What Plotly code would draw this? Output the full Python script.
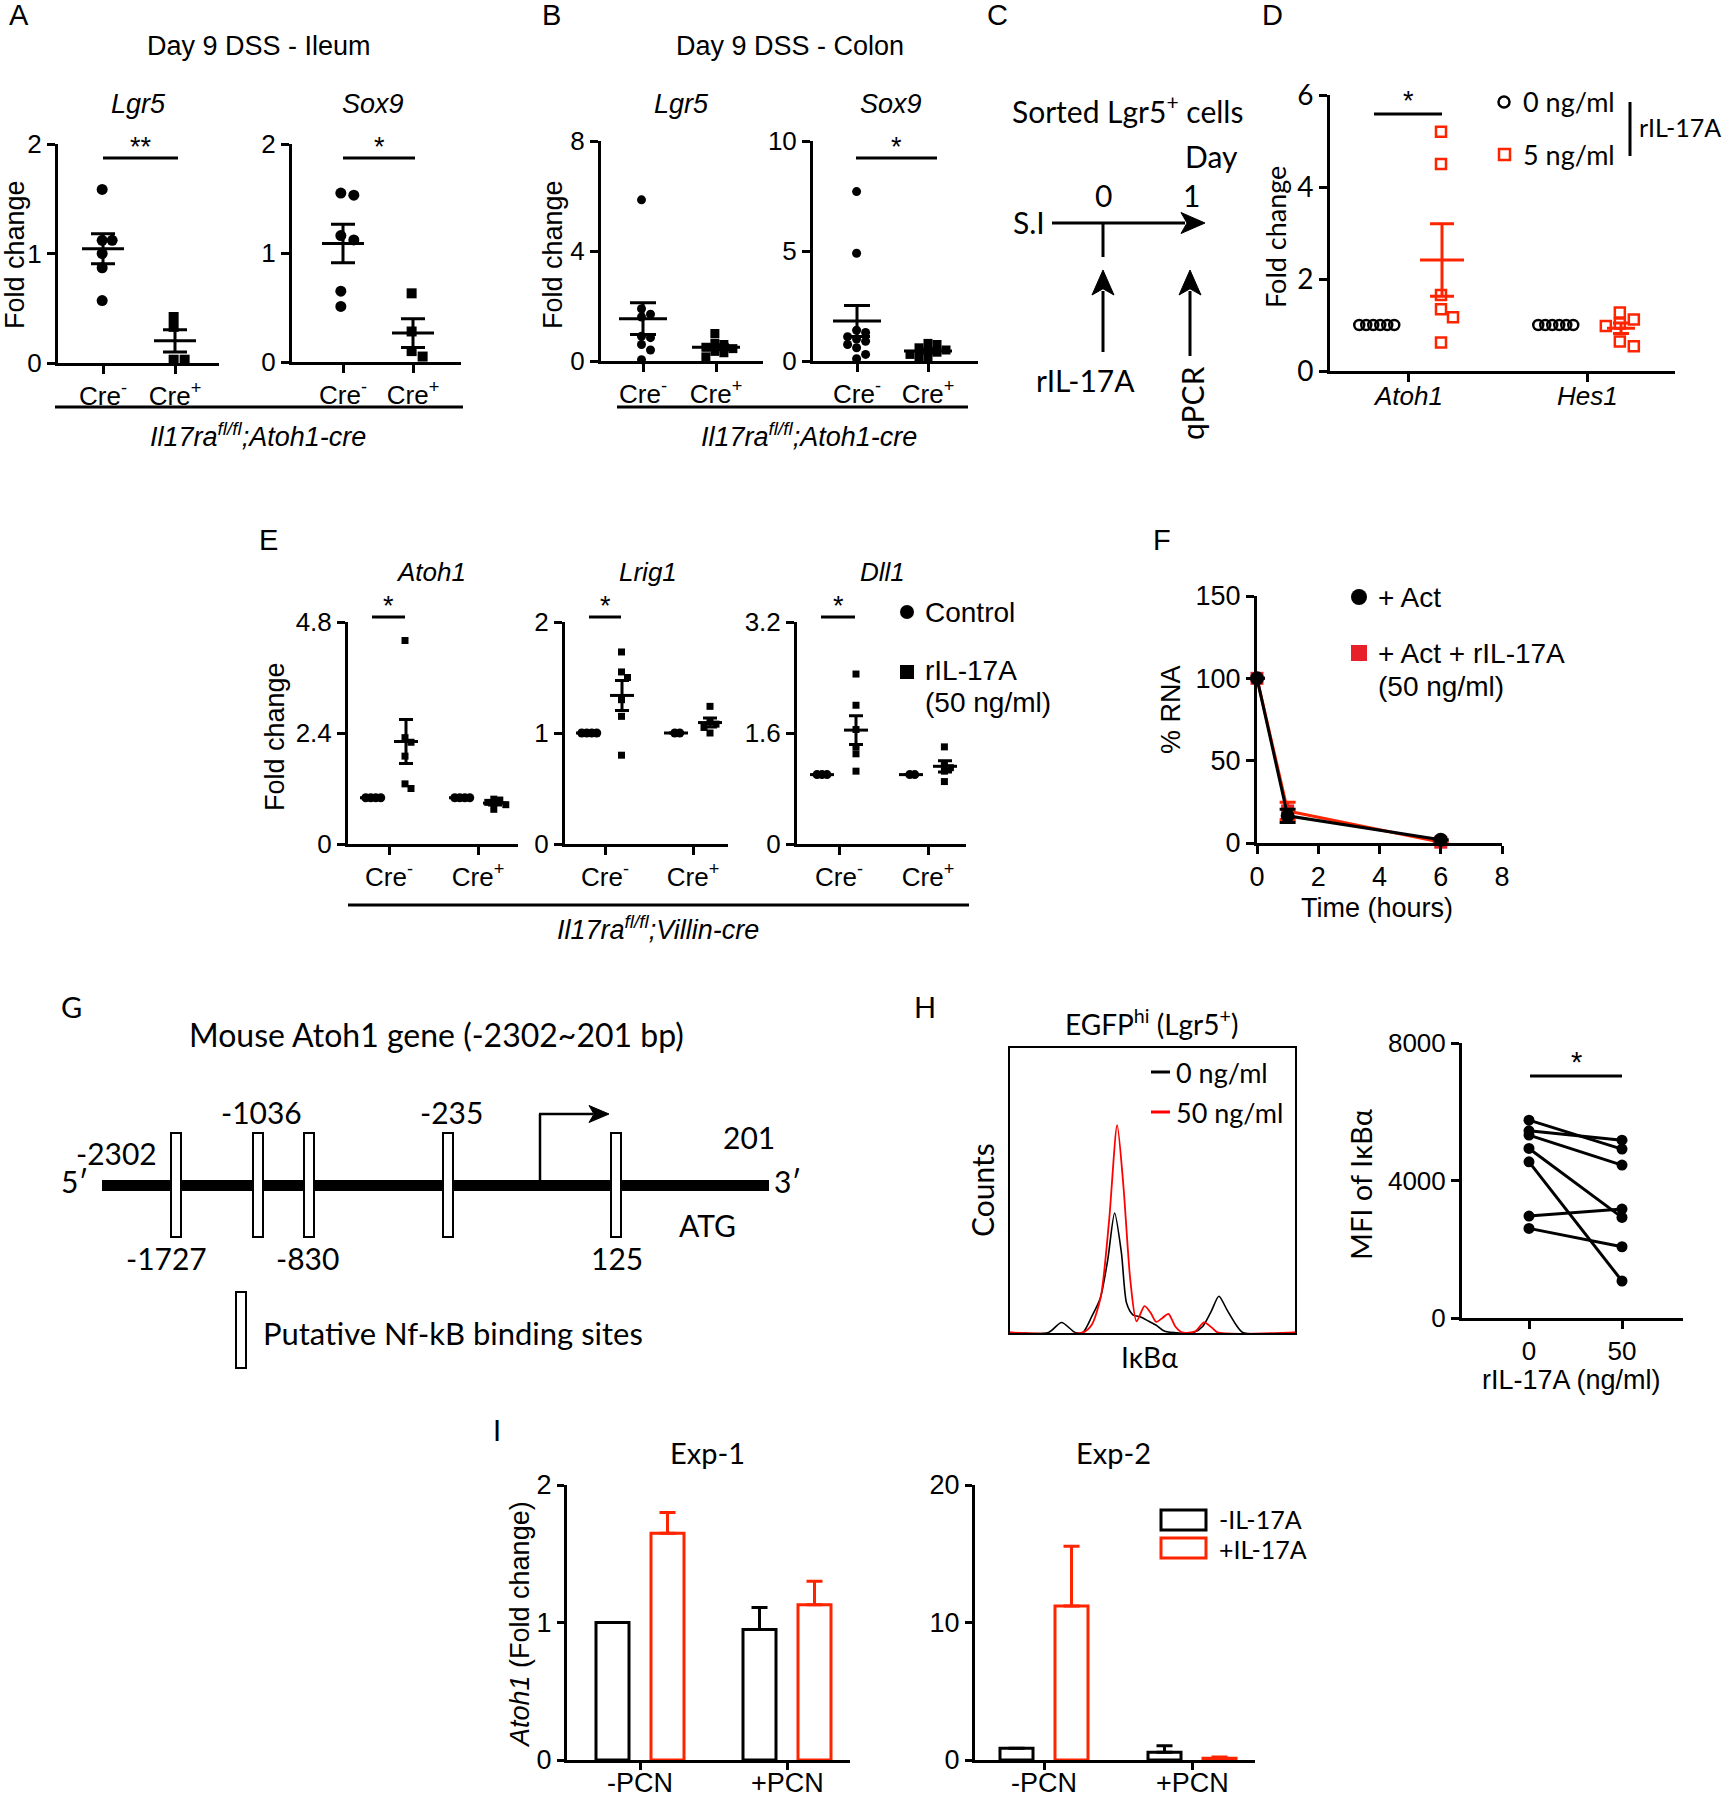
import numpy as np
import plotly.graph_objects as go

# ---------------------------------------------------------------- data
CAT_CRE = ["Cre<sup>-</sup>", "Cre<sup>+</sup>"]

# Panel A  (Day 9 DSS - Ileum)
A_lgr5_neg = [1.585, 1.12, 1.12, 1.0, 0.87, 0.57]
A_lgr5_pos = [0.42, 0.33, 0.03, 0.03]
A_sox9_neg = [1.55, 1.53, 1.16, 1.12, 0.65, 0.51]
A_sox9_pos = [0.63, 0.28, 0.10, 0.05]

# Panel B  (Day 9 DSS - Colon)
B_lgr5_neg = [5.86, 1.9, 1.7, 1.6, 0.9, 0.85, 0.6, 0.4, 0.05]
B_lgr5_pos = [1.0, 0.65, 0.6, 0.5, 0.45, 0.35, 0.3, 0.15]
B_sox9_neg = [7.7, 4.9, 1.4, 1.3, 1.1, 1.0, 0.9, 0.75, 0.6, 0.3, 0.1]
B_sox9_pos = [0.8, 0.75, 0.6, 0.5, 0.45, 0.4, 0.3, 0.2, 0.1]

# Panel D
D_genes = ["<i>Atoh1</i>", "<i>Hes1</i>"]
D_atoh1_0 = [1.0, 1.0, 1.0, 1.0, 1.0, 1.0]
D_atoh1_5 = [5.2, 4.5, 1.65, 1.34, 1.17, 0.62]
D_hes1_0 = [1.0, 1.0, 1.0, 1.0, 1.0, 1.0]
D_hes1_5 = [1.27, 1.12, 1.03, 0.98, 0.64, 0.54]

# Panel E
E_atoh1_ctrl_neg = [1.0, 1.0, 1.0, 1.0]
E_atoh1_ril_neg = [4.4, 2.3, 2.2, 1.9, 1.3, 1.2]
E_atoh1_ctrl_pos = [1.0, 1.0, 1.0, 1.0]
E_atoh1_ril_pos = [0.97, 0.95, 0.9, 0.85, 0.75]
E_lrig1_ctrl_neg = [1.0, 1.0, 1.0, 1.0]
E_lrig1_ril_neg = [1.73, 1.55, 1.5, 1.3, 1.15, 0.8]
E_lrig1_ctrl_pos = [1.0, 1.0]
E_lrig1_ril_pos = [1.24, 1.1, 1.08, 1.05, 1.0]
E_dll1_ctrl_neg = [1.0, 1.0, 1.0]
E_dll1_ril_neg = [2.45, 2.0, 1.65, 1.4, 1.3, 1.05]
E_dll1_ctrl_pos = [1.0, 1.0]
E_dll1_ril_pos = [1.4, 1.15, 1.1, 1.05, 0.9]

# Panel F
F_time = [0, 1, 6]
F_act = [100, 16.5, 2.0]
F_act_err = [0, 4.0, 0]
F_ril = [100, 19.5, 0.5]
F_ril_err = [0, 5.3, 0]

# Panel G
G_sites_top = ["-1036", "-235"]
G_sites_bottom = ["-1727", "-830", "125"]

# Panel H (histogram, % of box)
H_black_x = [0, 13.5, 18.1, 22.8, 25.6, 28.7, 31.7, 34.3, 36.7, 39.1, 40.9, 43.1, 45.9,
             48.7, 51.5, 54.3, 64.4, 67.6, 70.6, 73.3, 76.1, 79.3, 81.7, 100]
H_black_y = [0.2, 0.2, 3.7, 0.2, 0.2, 5.8, 12.3, 25.7, 42.1, 28.1, 10.5, 6.4, 5.6,
             4.1, 2.6, 0.6, 0.2, 2.3, 7.6, 12.9, 8.2, 2.9, 0.2, 0.2]
H_red_x = [0, 25.6, 28.7, 31.9, 34.8, 37.6, 39.8, 42.2, 44.4, 47.2, 49.4, 51.3, 53.5,
           55.6, 58.0, 60.4, 65.0, 68.1, 70.9, 72.8, 100]
H_red_y = [0.2, 0.2, 2.9, 12.9, 39.8, 72.9, 51.5, 18.7, 4.1, 9.4, 7.0, 3.9, 5.3,
           6.7, 2.3, 0.2, 0.6, 3.7, 1.8, 0.2, 0.2]
H_dose = [0, 50]
H_mfi_0 = [5756, 5445, 5320, 4933, 4544, 2965, 2607]
H_mfi_50 = [4913, 5174, 4448, 2927, 1076, 3169, 2073]

# Panel I
I_cats = ["-PCN", "+PCN"]
I1_minus = [1.0, 0.95]
I1_minus_err = [0, 0.16]
I1_plus = [1.65, 1.13]
I1_plus_err = [0.15, 0.17]
I2_minus = [0.85, 0.56]
I2_minus_err = [0, 0.48]
I2_plus = [11.2, 0.12]
I2_plus_err = [4.35, 0.10]

# ---------------------------------------------------------------- helpers
FA = "Liberation Sans, Arial, Helvetica, sans-serif"
FM = "Lato, Noto Sans, Open Sans, sans-serif"
RED = "#FF2400"
RED_F = "#E8202A"
RED_H = "#FF0000"

W, H, OFF = 1729, 1800, 0


def PX(x):
    return (x - OFF) / W


def PY(y):
    return 1 - (y - OFF) / H


fig = go.Figure()
layout = {}
ann = []
shp = []


def sfx(k):
    return "" if k == 1 else str(k)


def add_axes(k, x0, x1, c0, c1, u1, ytop, ybot, yr, ytv, yttxt=None, xtv=None, xttxt=None,
             tickfont=None, xtickfont=None, lw=3, ticklen=8, box=False, xlabels=True):
    ppu = (c1 - c0) / u1
    xr = [(x0 - c0) / ppu, (x1 - c0) / ppu]
    s = sfx(k)
    tf = tickfont or dict(family=FA, size=26, color="black")
    common = dict(showline=True, linecolor="black", linewidth=lw, tickwidth=lw, tickcolor="black",
                  ticklen=ticklen, showgrid=False, zeroline=False, fixedrange=True, mirror=box,
                  automargin=False, layer="above traces")
    layout["xaxis" + s] = dict(domain=[PX(x0), PX(x1)], range=xr, anchor="y" + s,
                               ticks="outside" if xtv is not None else "",
                               tickvals=xtv if xtv is not None else [], ticktext=xttxt,
                               showticklabels=xlabels,
                               tickfont=xtickfont or tf, **common)
    layout["yaxis" + s] = dict(domain=[PY(ybot), PY(ytop)], range=yr, anchor="x" + s,
                               ticks="outside" if ytv is not None else "",
                               tickvals=ytv if ytv is not None else [], ticktext=yttxt,
                               tickfont=tf, **common)
    yppu = (ybot - ytop) / (yr[1] - yr[0])
    return ppu, yppu


def swarm(vals, thresh, step):
    v = np.asarray(vals, float)
    order = np.argsort(-v, kind="stable")
    offs = np.zeros(len(v))
    placed = []
    cands = [0]
    for i in range(1, 20):
        cands += [i, -i]
    for idx in order:
        near = [offs[j] for j in placed if abs(v[j] - v[idx]) < thresh]
        for c in cands:
            if all(abs(c * step - o) > step * 0.5 for o in near):
                offs[idx] = c * step
                break
        placed.append(idx)
    if len(offs):
        offs = offs - offs.mean() * 0.5
    return offs


def dots(k, xc, vals, symbol, size, color, ppu, yppu, step_px, lw=0):
    offs = swarm(vals, thresh=size * 0.85 / yppu, step=step_px / ppu)
    s = sfx(k)
    fig.add_trace(go.Scatter(x=xc + offs, y=vals, mode="markers",
                             marker=dict(symbol=symbol, size=size, color=color,
                                         line=dict(color=color, width=lw)),
                             xaxis="x" + s, yaxis="y" + s, cliponaxis=False, hoverinfo="skip"))


def mean_sem(k, xc, vals, color, ppu, half_px, cap_px, lw=3):
    v = np.asarray(vals, float)
    m = v.mean()
    se = v.std(ddof=1) / np.sqrt(len(v))
    s = sfx(k)
    fig.add_trace(go.Scatter(x=[xc - half_px / ppu, xc + half_px / ppu], y=[m, m], mode="lines",
                             line=dict(color=color, width=lw), xaxis="x" + s, yaxis="y" + s,
                             cliponaxis=False, hoverinfo="skip"))
    fig.add_trace(go.Scatter(x=[xc], y=[m], mode="markers",
                             marker=dict(size=1, color="rgba(0,0,0,0)"),
                             error_y=dict(type="data", array=[se], visible=True, color=color,
                                          thickness=lw, width=cap_px),
                             xaxis="x" + s, yaxis="y" + s, cliponaxis=False, hoverinfo="skip"))


def T(text, x, y, size=27, family=FA, xanchor="center", yanchor="middle", angle=0, color="black"):
    ann.append(dict(text=text, x=PX(x), y=PY(y), xref="paper", yref="paper", showarrow=False,
                    xanchor=xanchor, yanchor=yanchor, textangle=angle,
                    font=dict(size=size, family=family, color=color)))


def L(x0, y0, x1, y1, w=3, color="black"):
    shp.append(dict(type="line", x0=PX(x0), y0=PY(y0), x1=PX(x1), y1=PY(y1), xref="paper",
                    yref="paper", line=dict(color=color, width=w)))


def R(x0, y0, x1, y1, fill="white", line="black", w=2):
    shp.append(dict(type="rect", x0=PX(x0), y0=PY(y1), x1=PX(x1), y1=PY(y0), xref="paper",
                    yref="paper", fillcolor=fill, line=dict(color=line, width=w)))


def C(xc, yc, r, fill="black", line="black", w=0):
    shp.append(dict(type="circle", x0=PX(xc - r), y0=PY(yc + r), x1=PX(xc + r), y1=PY(yc - r),
                    xref="paper", yref="paper", fillcolor=fill, line=dict(color=line, width=w)))


def ARROW(hx, hy, tx, ty, w=3, hl=22, hw=20):
    d = np.array([hx - tx, hy - ty], float)
    d /= np.hypot(*d)
    n = np.array([-d[1], d[0]])
    b = np.array([hx, hy]) - d * hl
    L(tx, ty, b[0] + d[0] * 4, b[1] + d[1] * 4, w)
    pts = [(hx, hy), tuple(b + n * hw / 2), tuple(b + d * hl * 0.25), tuple(b - n * hw / 2)]
    path = "M " + " L ".join(f"{PX(x):.5f},{PY(y):.5f}" for x, y in pts) + " Z"
    shp.append(dict(type="path", path=path, xref="paper", yref="paper", fillcolor="black",
                    line=dict(color="black", width=1)))


def sig(x0, x1, y, star, ystar, size=27):
    L(x0, y, x1, y, 3)
    T(star, (x0 + x1) / 2, ystar, size=size)


# ---------------------------------------------------------------- panel A
T("A", 19, 15, size=29)
T("Day 9 DSS - Ileum", 259, 46, size=27)
T("<i>Lgr5</i>", 138, 104, size=27)
T("<i>Sox9</i>", 373, 104, size=27)
T("Fold change", 15, 255, size=27, angle=-90)
p, q = add_axes(1, 58, 219, 103, 175, 1, 144, 363, [0, 2], [0, 1, 2], xtv=[0, 1], xttxt=CAT_CRE)
dots(1, 0, A_lgr5_neg, "circle", 11, "black", p, q, 10)
dots(1, 1, A_lgr5_pos, "square", 10, "black", p, q, 11)
for xc, v in [(0, A_lgr5_neg), (1, A_lgr5_pos)]:
    mean_sem(1, xc, v, "black", p, 21, 12)
sig(103, 178, 158, "**", 147)
p, q = add_axes(2, 292, 461, 343, 413, 1, 144, 362, [0, 2], [0, 1, 2], xtv=[0, 1], xttxt=CAT_CRE)
dots(2, 0, A_sox9_neg, "circle", 11, "black", p, q, 13)
dots(2, 1, A_sox9_pos, "square", 10, "black", p, q, 11)
for xc, v in [(0, A_sox9_neg), (1, A_sox9_pos)]:
    mean_sem(2, xc, v, "black", p, 21, 12)
sig(343, 415, 158, "*", 147)
L(55, 407, 463, 407, 3)
T("<i>Il17ra<sup>fl/fl</sup>;Atoh1-cre</i>", 258, 435, size=27)

# ---------------------------------------------------------------- panel B
T("B", 551, 15, size=29)
T("Day 9 DSS - Colon", 790, 46, size=27)
T("<i>Lgr5</i>", 681, 104, size=27)
T("<i>Sox9</i>", 891, 104, size=27)
T("Fold change", 553, 255, size=27, angle=-90)
p, q = add_axes(3, 601, 763, 643, 716, 1, 141, 361, [0, 8], [0, 4, 8], xtv=[0, 1], xttxt=CAT_CRE)
dots(3, 0, B_lgr5_neg, "circle", 9, "black", p, q, 9)
dots(3, 1, B_lgr5_pos, "square", 9, "black", p, q, 9)
for xc, v in [(0, B_lgr5_neg), (1, B_lgr5_pos)]:
    mean_sem(3, xc, v, "black", p, 24, 13)
p, q = add_axes(4, 813, 978, 857, 928, 1, 141, 361, [0, 10], [0, 5, 10], xtv=[0, 1], xttxt=CAT_CRE)
dots(4, 0, B_sox9_neg, "circle", 9, "black", p, q, 9)
dots(4, 1, B_sox9_pos, "square", 9, "black", p, q, 9)
for xc, v in [(0, B_sox9_neg), (1, B_sox9_pos)]:
    mean_sem(4, xc, v, "black", p, 24, 13)
sig(856, 937, 158, "*", 147)
L(617, 407, 968, 407, 3)
T("<i>Il17ra<sup>fl/fl</sup>;Atoh1-cre</i>", 809, 435, size=27)

# ---------------------------------------------------------------- panel C (schematic)
T("C", 998, 15, size=29)
T("Sorted Lgr5<sup>+</sup> cells", 1127, 109, size=30, family=FM)
T("Day", 1211, 156, size=30, family=FM)
T("0", 1103, 195, size=30, family=FM)
T("1", 1191, 195, size=30, family=FM)
T("S.I", 1029, 222, size=30, family=FM)
ARROW(1205, 223, 1052, 223, hl=24, hw=21)
L(1103, 223, 1103, 257, 3)
ARROW(1103, 270, 1103, 352, hl=25, hw=22)
ARROW(1190, 270, 1190, 356, hl=25, hw=22)
T("rIL-17A", 1085, 380, size=30, family=FM)
T("qPCR", 1192, 403, size=30, family=FM, angle=-90)

# ---------------------------------------------------------------- panel D
T("D", 1272, 15, size=29)
T("Fold change", 1276, 237, size=27, family=FM, angle=-90)
p, q = add_axes(5, 1330, 1675, 1408, 1587, 1, 95, 371, [0, 6], [0, 2, 4, 6], xtv=[0, 1],
                tickfont=dict(family=FM, size=28, color="black"), xlabels=False)
for txt, xc in zip(D_genes, [1408, 1587]):
    T(txt, xc, 396, size=26)
off0, off1 = -33 / p, 34 / p
dots(5, 0 + off0, D_atoh1_0, "circle-open", 10, "black", p, q, 7, lw=2.5)
dots(5, 0 + off1, D_atoh1_5, "square-open", 10, RED, p, q, 12, lw=2.5)
dots(5, 1 + off0, D_hes1_0, "circle-open", 10, "black", p, q, 7, lw=2.5)
dots(5, 1 + off1, D_hes1_5, "square-open", 10, RED, p, q, 14, lw=2.5)
mean_sem(5, 0 + off1, D_atoh1_5, RED, p, 22, 12)
mean_sem(5, 1 + off1, D_hes1_5, RED, p, 14, 8)
sig(1374, 1442, 114, "*", 101)
C(1504, 102, 5.5, fill="white", line="black", w=2.5)
T("0 ng/ml", 1521, 102, size=27, family=FM, xanchor="left")
R(1499, 149, 1510, 160, fill="white", line=RED, w=2.5)
T("5 ng/ml", 1521, 154, size=27, family=FM, xanchor="left")
L(1630, 102, 1630, 156, 3)
T("rIL-17A", 1637, 127, size=25, family=FM, xanchor="left")

# ---------------------------------------------------------------- panel E
T("E", 268, 540, size=29)
T("<i>Atoh1</i>", 431, 572, size=26)
T("<i>Lrig1</i>", 648, 572, size=26)
T("<i>Dll1</i>", 882, 572, size=26)
T("Fold change", 275, 737, size=27, angle=-90)
E_specs = [
    (6, 348, 518, 389, 478, [0, 4.8], [0, 2.4, 4.8], ["0", "2.4", "4.8"],
     E_atoh1_ctrl_neg, E_atoh1_ril_neg, E_atoh1_ctrl_pos, E_atoh1_ril_pos),
    (7, 565, 728, 605, 693, [0, 2], [0, 1, 2], ["0", "1", "2"],
     E_lrig1_ctrl_neg, E_lrig1_ril_neg, E_lrig1_ctrl_pos, E_lrig1_ril_pos),
    (8, 797, 966, 839, 928, [0, 3.2], [0, 1.6, 3.2], ["0", "1.6", "3.2"],
     E_dll1_ctrl_neg, E_dll1_ril_neg, E_dll1_ctrl_pos, E_dll1_ril_pos),
]
for (k, x0, x1, c0, c1, yr, ytv, ytt, cn, rn, cp, rp) in E_specs:
    p, q = add_axes(k, x0, x1, c0, c1, 1, 622, 844, yr, ytv, yttxt=ytt, xtv=[0, 1], xttxt=CAT_CRE)
    o = 17 / p
    dots(k, 0 - o, cn, "circle", 9, "black", p, q, 5)
    dots(k, 0 + o, rn, "square", 7, "black", p, q, 6)
    dots(k, 1 - o, cp, "circle", 9, "black", p, q, 5)
    dots(k, 1 + o, rp, "square", 7, "black", p, q, 6)
    for xc, v in [(0 - o, cn), (0 + o, rn), (1 - o, cp), (1 + o, rp)]:
        mean_sem(k, xc, v, "black", p, 12, 7)
sig(372, 405, 617, "*", 606)
sig(589, 621, 617, "*", 606)
sig(821, 855, 617, "*", 606)
C(907, 612, 7)
T("Control", 923, 612, size=28, xanchor="left")
R(900, 665, 914, 679, fill="black", line="black", w=0)
T("rIL-17A", 923, 670, size=28, xanchor="left")
T("(50 ng/ml)", 923, 702, size=28, xanchor="left")
L(348, 905, 969, 905, 3)
T("<i>Il17ra<sup>fl/fl</sup>;Villin-cre</i>", 658, 928, size=27)

# ---------------------------------------------------------------- panel F
T("F", 1162, 540, size=29)
p, q = add_axes(9, 1257, 1502, 1257, 1502, 8, 596, 843, [0, 150], [0, 50, 100, 150],
                xtv=[0, 2, 4, 6, 8], tickfont=dict(family=FA, size=27, color="black"))
fig.add_trace(go.Scatter(x=F_time, y=F_ril, mode="lines+markers", xaxis="x9", yaxis="y9",
                         line=dict(color=RED, width=3),
                         marker=dict(symbol="square", size=13, color=RED_F),
                         error_y=dict(type="data", array=F_ril_err, color=RED, thickness=3, width=8),
                         cliponaxis=False, hoverinfo="skip"))
fig.add_trace(go.Scatter(x=F_time, y=F_act, mode="lines+markers", xaxis="x9", yaxis="y9",
                         line=dict(color="black", width=3),
                         marker=dict(symbol="circle", size=14, color="black"),
                         error_y=dict(type="data", array=F_act_err, color="black", thickness=3, width=8),
                         cliponaxis=False, hoverinfo="skip"))
T("% RNA", 1171, 710, size=27, angle=-90)
T("Time (hours)", 1377, 908, size=27)
C(1359, 597, 8)
T("+ Act", 1376, 597, size=28, xanchor="left")
R(1351, 645, 1367, 661, fill=RED_F, line=RED_F, w=0)
T("+ Act + rIL-17A", 1376, 653, size=28, xanchor="left")
T("(50 ng/ml)", 1376, 687, size=28, xanchor="left")

# ---------------------------------------------------------------- panel G (schematic)
T("G", 71, 1006, size=29, family=FM)
T("Mouse Atoh1 gene (-2302~201 bp)", 436, 1034, size=32, family=FM)
R(102, 1180, 769, 1191, fill="black", line="black", w=0)
T("5′", 74, 1181, size=30, family=FM)
T("3′", 787, 1181, size=30, family=FM)
for xc in [176, 258, 309, 448, 616]:
    R(xc - 5, 1133, xc + 5, 1237, fill="white", line="black", w=2)
L(540, 1180, 540, 1114, 2.5)
ARROW(609, 1114, 539, 1114, w=2.5, hl=20, hw=17)
T("-2302", 116, 1153, size=30, family=FM)
for txt, xc in zip(G_sites_top, [261, 451]):
    T(txt, xc, 1112, size=30, family=FM)
T("201", 749, 1137, size=30, family=FM)
for txt, xc in zip(G_sites_bottom, [166, 307, 617]):
    T(txt, xc, 1258, size=30, family=FM)
T("ATG", 707, 1225, size=30, family=FM)
R(236, 1292, 246, 1368, fill="white", line="black", w=2)
T("Putative Nf-kB binding sites", 261, 1333, size=31, family=FM, xanchor="left")

# ---------------------------------------------------------------- panel H
T("H", 925, 1006, size=29, family=FM)
T("EGFP<sup>hi</sup> (Lgr5<sup>+</sup>)", 1151, 1022, size=28, family=FM)
add_axes(10, 1010, 1295, 1010, 1295, 100, 1048, 1333, [0, 100], None, lw=1.5, box=True)
fig.add_trace(go.Scatter(x=H_black_x, y=H_black_y, mode="lines", xaxis="x10", yaxis="y10",
                         line=dict(color="black", width=1.6, shape="spline", smoothing=0.7),
                         hoverinfo="skip"))
fig.add_trace(go.Scatter(x=H_red_x, y=H_red_y, mode="lines", xaxis="x10", yaxis="y10",
                         line=dict(color=RED_H, width=1.8, shape="spline", smoothing=0.7),
                         hoverinfo="skip"))
L(1151, 1072, 1170, 1072, 3)
T("0 ng/ml", 1174, 1072, size=27, family=FM, xanchor="left")
L(1151, 1112, 1170, 1112, 3, RED_H)
T("50 ng/ml", 1174, 1112, size=27, family=FM, xanchor="left")
T("Counts", 982, 1190, size=30, family=FM, angle=-90)
T("IκBα", 1149, 1357, size=28, family=FM)
p, q = add_axes(11, 1462, 1683, 1529, 1622, 50, 1043, 1318, [0, 8000], [0, 4000, 8000],
                xtv=[0, 50], tickfont=dict(family=FA, size=26, color="black"))
for a, b in zip(H_mfi_0, H_mfi_50):
    fig.add_trace(go.Scatter(x=H_dose, y=[a, b], mode="lines+markers", xaxis="x11", yaxis="y11",
                             line=dict(color="black", width=3),
                             marker=dict(symbol="circle", size=11, color="black"),
                             cliponaxis=False, hoverinfo="skip"))
sig(1530, 1622, 1076, "*", 1062, size=29)
T("MFI of IκBα", 1360, 1185, size=29, family=FM, angle=-90)
T("rIL-17A (ng/ml)", 1571, 1380, size=27)

# ---------------------------------------------------------------- panel I
T("I", 497, 1429, size=29, family=FM)
T("Exp-1", 707, 1452, size=29, family=FM)
T("Exp-2", 1113, 1452, size=29, family=FM)
T("<i>Atoh1</i> (Fold change)", 520, 1625, size=27, angle=-90)
I_specs = [(12, 567, 850, 640, 787, [0, 2], [0, 1, 2], I1_minus, I1_minus_err, I1_plus, I1_plus_err),
           (13, 975, 1255, 1044, 1192, [0, 20], [0, 10, 20], I2_minus, I2_minus_err, I2_plus, I2_plus_err)]
for (k, x0, x1, c0, c1, yr, ytv, vm, em, vp, ep) in I_specs:
    p, q = add_axes(k, x0, x1, c0, c1, 1, 1485, 1760, yr, ytv, xtv=[0, 1],
                    tickfont=dict(family=FA, size=27, color="black"), ticklen=7, xlabels=False)
    for txt, xc in zip(I_cats, [c0, c1]):
        T(txt, xc, 1783, size=27)
    bw = 33 / p
    o = 27.5 / p
    s = sfx(k)
    for vals, errs, col, sign in [(vm, em, "black", -1), (vp, ep, RED, 1)]:
        fig.add_trace(go.Bar(x=[i + sign * o for i in range(len(vals))], y=vals, width=bw,
                             marker=dict(color="rgba(0,0,0,0)", line=dict(color=col, width=3)),
                             error_y=dict(type="data", symmetric=False, array=errs,
                                          arrayminus=[0] * len(errs), color=col, thickness=3, width=8),
                             xaxis="x" + s, yaxis="y" + s, hoverinfo="skip"))
R(1161, 1510, 1206, 1530, fill="white", line="black", w=3)
T("-IL-17A", 1217, 1519, size=25, family=FM, xanchor="left")
R(1161, 1538, 1206, 1558, fill="white", line=RED, w=3)
T("+IL-17A", 1217, 1549, size=25, family=FM, xanchor="left")

# ---------------------------------------------------------------- layout
fig.update_layout(template="none", width=W, height=H, autosize=False,
                  margin=dict(l=0, r=0, t=0, b=0, pad=0),
                  paper_bgcolor="white", plot_bgcolor="rgba(0,0,0,0)", showlegend=False,
                  barmode="overlay", annotations=ann, shapes=shp,
                  font=dict(family=FA, color="black"), **layout)
fig.write_html("out.html", config={"displayModeBar": False},
               post_script="document.body.style.margin='0';"
                           "document.body.style.overflow='hidden';"
                           "document.documentElement.style.overflow='hidden';")
